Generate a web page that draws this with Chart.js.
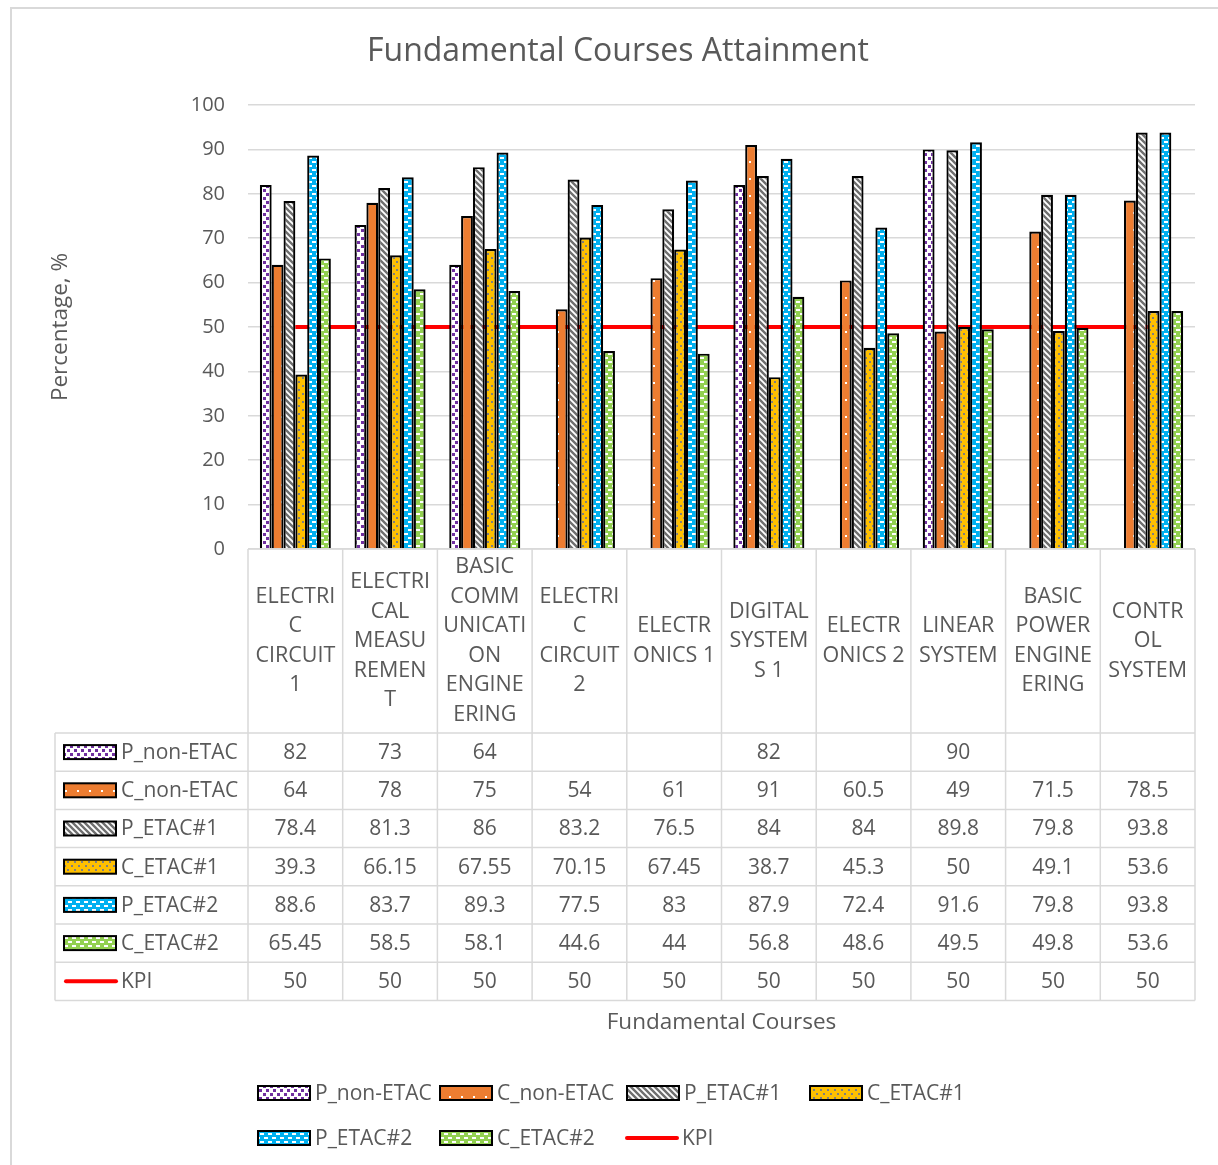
<!DOCTYPE html>
<html>
<head>
<meta charset="utf-8">
<script src="https://cdn.jsdelivr.net/npm/chart.js@4.4.0/dist/chart.umd.min.js"></script>
<style>
	html, body { margin: 0; padding: 0; background: #fff; }
	#wrap { position: relative; width: 1218px; height: 1165px; }
</style>
</head>
<body>
<div id="wrap"><canvas id="chart-attainment"></canvas></div>
<script>
// Data
const CATEGORIES = [
	["ELECTRI", "C", "CIRCUIT", "1"],
	["ELECTRI", "CAL", "MEASU", "REMEN", "T"],
	["BASIC", "COMM", "UNICATI", "ON", "ENGINE", "ERING"],
	["ELECTRI", "C", "CIRCUIT", "2"],
	["ELECTR", "ONICS 1"],
	["DIGITAL", "SYSTEM", "S 1"],
	["ELECTR", "ONICS 2"],
	["LINEAR", "SYSTEM"],
	["BASIC", "POWER", "ENGINE", "ERING"],
	["CONTR", "OL", "SYSTEM"],
];
const SERIES_NAMES = ["P_non-ETAC", "C_non-ETAC", "P_ETAC#1", "C_ETAC#1", "P_ETAC#2", "C_ETAC#2", "KPI"];
const P_NON_ETAC = [82, 73, 64, null, null, 82, null, 90, null, null];
const C_NON_ETAC = [64, 78, 75, 54, 61, 91, 60.5, 49, 71.5, 78.5];
const P_ETAC1 = [78.4, 81.3, 86, 83.2, 76.5, 84, 84, 89.8, 79.8, 93.8];
const C_ETAC1 = [39.3, 66.15, 67.55, 70.15, 67.45, 38.7, 45.3, 50, 49.1, 53.6];
const P_ETAC2 = [88.6, 83.7, 89.3, 77.5, 83, 87.9, 72.4, 91.6, 79.8, 93.8];
const C_ETAC2 = [65.45, 58.5, 58.1, 44.6, 44, 56.8, 48.6, 49.5, 49.8, 53.6];
const KPI = [50, 50, 50, 50, 50, 50, 50, 50, 50, 50];
const Y_TICKS = [0, 10, 20, 30, 40, 50, 60, 70, 80, 90, 100];

const FONT = "'Open Sans', 'Noto Sans', sans-serif";
const TEXT = "#595959";
const LINE = "#d9d9d9";

// Fill patterns
const makePattern = (bg, w, h, draw) => {
	const c = document.createElement("canvas");
	c.width = w;
	c.height = h;
	const g = c.getContext("2d");
	g.fillStyle = bg;
	g.fillRect(0, 0, w, h);
	draw(g);
	return g.createPattern(c, "repeat");
};

const PATTERNS = [
	makePattern("#ffffff", 7, 8, (g) => {
		g.fillStyle = "#7030a0";
		g.fillRect(0, 1, 3, 3);
		g.fillRect(4, 5, 3, 3);
	}),
	makePattern("#ed7d31", 12, 17, (g) => {
		g.fillStyle = "#ffffff";
		g.fillRect(5, 8, 2, 2);
	}),
	makePattern("#ffffff", 6, 6, (g) => {
		g.strokeStyle = "#6f6f6f";
		g.lineWidth = 2.4;
		g.beginPath();
		g.moveTo(-1, -1); g.lineTo(7, 7);
		g.moveTo(-1, 5); g.lineTo(1, 7);
		g.moveTo(5, -1); g.lineTo(7, 1);
		g.stroke();
	}),
	makePattern("#ffc000", 7, 8, (g) => {
		g.fillStyle = "#7f7f7f";
		g.fillRect(1, 1, 2, 2);
		g.fillRect(4, 5, 2, 2);
	}),
	makePattern("#00b0f0", 8, 8, (g) => {
		g.fillStyle = "#ffffff";
		g.fillRect(0, 1, 4, 2);
		g.fillRect(4, 5, 4, 2);
	}),
	makePattern("#92d050", 8, 8, (g) => {
		g.fillStyle = "#ffffff";
		g.fillRect(0, 1, 4, 2);
		g.fillRect(4, 5, 4, 2);
	}),
];

const BAR_DATA = [P_NON_ETAC, C_NON_ETAC, P_ETAC1, C_ETAC1, P_ETAC2, C_ETAC2];

const swatch = (ctx, i, x, y) => {
	if (i === 6) {
		ctx.strokeStyle = "#ff0000";
		ctx.lineWidth = 4;
		ctx.lineCap = "round";
		ctx.beginPath();
		ctx.moveTo(x + 2, y);
		ctx.lineTo(x + 52, y);
		ctx.stroke();
		ctx.lineCap = "butt";
		return;
	}
	ctx.fillStyle = PATTERNS[i];
	ctx.fillRect(x, y - 7, 52, 14);
	ctx.strokeStyle = "#000";
	ctx.lineWidth = 2;
	ctx.strokeRect(x, y - 7, 52, 14);
};

// Table, titles and legend
const tablePlugin = {
	id: "tablePlugin",
	beforeDraw(chart) {
		const ctx = chart.ctx;
		ctx.save();
		ctx.fillStyle = "#fff";
		ctx.fillRect(0, 0, chart.width, chart.height);
		ctx.strokeStyle = LINE;
		ctx.lineWidth = 2;
		ctx.strokeRect(11, 8, 1400, 1400);
		ctx.restore();
	},
	afterDraw(chart) {
		const ctx = chart.ctx;
		const area = chart.chartArea;
		const xs = chart.scales.x;
		const n = CATEGORIES.length;
		const colW = (area.right - area.left) / n;
		const headTop = area.bottom;
		const rowTop = 733;
		const rowH = 38.2;
		const tableLeft = 55;
		const tableBottom = rowTop + rowH * SERIES_NAMES.length;

		ctx.save();
		ctx.strokeStyle = LINE;
		ctx.lineWidth = 1.5;
		ctx.beginPath();
		ctx.moveTo(area.left, headTop);
		ctx.lineTo(area.right, headTop);
		for (let k = 0; k <= SERIES_NAMES.length; k++) {
			const y = rowTop + k * rowH;
			ctx.moveTo(tableLeft, y);
			ctx.lineTo(area.right, y);
		}
		for (let i = 0; i <= n; i++) {
			const x = area.left + i * colW;
			ctx.moveTo(x, headTop);
			ctx.lineTo(x, tableBottom);
		}
		ctx.moveTo(tableLeft, rowTop);
		ctx.lineTo(tableLeft, tableBottom);
		ctx.stroke();

		ctx.fillStyle = TEXT;
		ctx.textAlign = "center";
		ctx.textBaseline = "middle";

		// category headers
		ctx.font = "21.5px " + FONT;
		const lh = 29.5;
		CATEGORIES.forEach((lines, i) => {
			const cx = xs.getPixelForValue(i);
			const y0 = 641 - ((lines.length - 1) * lh) / 2;
			lines.forEach((t, j) => ctx.fillText(t, cx, y0 + j * lh));
		});

		// rows
		ctx.font = "21px " + FONT;
		const rows = [...BAR_DATA, KPI];
		rows.forEach((vals, k) => {
			const cy = rowTop + k * rowH + rowH / 2;
			swatch(ctx, k, 64, cy);
			ctx.fillStyle = TEXT;
			ctx.textAlign = "left";
			ctx.fillText(SERIES_NAMES[k], 121, cy + 1);
			ctx.textAlign = "center";
			vals.forEach((v, i) => {
				if (v !== null) ctx.fillText(String(v), xs.getPixelForValue(i), cy + 1);
			});
		});

		// axis titles
		ctx.font = "22.5px " + FONT;
		ctx.fillText("Fundamental Courses", (area.left + area.right) / 2, 1023);
		ctx.save();
		ctx.translate(61, (area.top + area.bottom) / 2);
		ctx.rotate(-Math.PI / 2);
		ctx.fillText("Percentage, %", 0, 0);
		ctx.restore();

		// chart title
		ctx.font = "32px " + FONT;
		ctx.fillText("Fundamental Courses Attainment", 618, 52);

		// legend
		ctx.font = "21px " + FONT;
		ctx.textAlign = "left";
		const legendPos = [
			[258, 1093], [440, 1093], [627, 1093], [810, 1093],
			[258, 1138], [440, 1138], [625, 1138],
		];
		legendPos.forEach(([x, y], k) => {
			swatch(ctx, k, x, y);
			ctx.fillStyle = TEXT;
			ctx.fillText(SERIES_NAMES[k], x + 57, y + 1);
		});
		ctx.restore();
	},
};

const CHART_DATA = {
	labels: CATEGORIES.map((c) => c.join(" ")),
	datasets: [
		...BAR_DATA.map((d, i) => ({
			type: "bar",
			label: SERIES_NAMES[i],
			data: d,
			backgroundColor: PATTERNS[i],
			borderColor: "#000",
			borderWidth: 2.2,
			categoryPercentage: 0.75,
			barPercentage: 1,
			order: 1,
		})),
		{
			type: "line",
			label: "KPI",
			data: KPI,
			borderColor: "#ff0000",
			borderWidth: 4,
			pointRadius: 0,
			fill: false,
			order: 2,
		},
	],
};

const CHART_CONFIG = {
	type: "bar",
	data: CHART_DATA,
	options: {
		responsive: false,
		animation: false,
		layout: {
			padding: { top: 105, bottom: 616, left: 0, right: 23 },
		},
		plugins: {
			legend: { display: false },
			tooltip: { enabled: false },
		},
		scales: {
			x: {
				display: false,
			},
			y: {
				min: 0,
				max: 100,
				afterFit: (s) => { s.width = 248; },
				afterBuildTicks: (s) => { s.ticks = Y_TICKS.map((v) => ({ value: v })); },
				border: { display: false },
				grid: { color: LINE, lineWidth: 1.5, drawTicks: false },
				ticks: {
					padding: 23,
					color: TEXT,
					font: { family: FONT, size: 20 },
				},
			},
		},
	},
	plugins: [tablePlugin],
};

const canvas = document.getElementById("chart-attainment");
canvas.width = 1218;
canvas.height = 1165;
new Chart(canvas, CHART_CONFIG);
</script>
</body>
</html>
